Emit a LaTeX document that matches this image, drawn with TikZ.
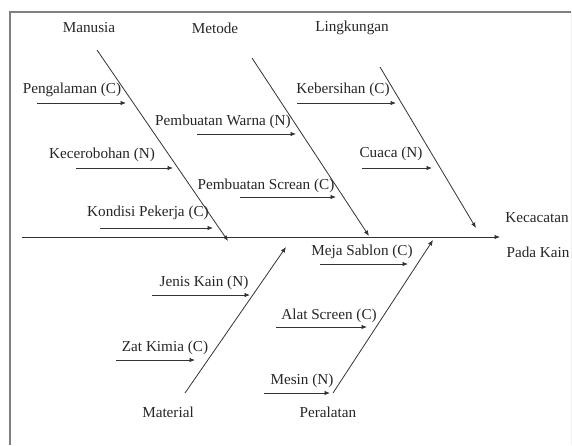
\documentclass[tikz,border=0pt]{standalone}
\usepackage{fontspec}
\setmainfont{Liberation Serif}
\usetikzlibrary{arrows.meta}
\tikzset{
  tulang/.style={draw=black!80,line width=0.8pt,-{Latex[length=5.5pt,width=4.5pt]}},
  sebab/.style={draw=black!80,line width=0.8pt,-{Latex[length=5.5pt,width=4.5pt]}},
  teks/.style={font=\fontsize{15.2}{18}\selectfont,inner sep=0pt,text=black!85}
}
\begin{document}
\begin{tikzpicture}[x=1pt,y=-1pt]
\useasboundingbox (0,0) rectangle (572,445);
% bingkai
\draw[black!50,line width=1.2pt] (10,445) -- (10,12) -- (571,12);
\draw[black!6] (571,12) -- (571,445);

% titik ujung tulang
\coordinate (S0) at (22,237);
\coordinate (S1) at (500,237);
\coordinate (M0) at (97,50);
\coordinate (M1) at (228,241);
\coordinate (T0) at (252,58);
\coordinate (T1) at (369,236);
\coordinate (L0) at (380,67);
\coordinate (L1) at (476,228);
\coordinate (B0) at (185,393);
\coordinate (B1) at (286,247);
\coordinate (P0) at (333,393);
\coordinate (P1) at (433,240);

% tulang utama dan cabang
\draw[tulang] (S0) -- (S1);
\draw[tulang] (M0) -- (M1); % Manusia
\draw[tulang] (T0) -- (T1); % Metode
\draw[tulang] (L0) -- (L1); % Lingkungan
\draw[tulang] (B0) -- (B1); % Material
\draw[tulang] (P0) -- (P1); % Peralatan

% kategori
\node[teks] (manusia) at (89,28) {Manusia};
\node[teks] (metode) at (215,28) {Metode};
\node[teks] (lingkungan) at (352,28) {Lingkungan};
\node[teks] (material) at (168,412) {Material};
\node[teks] (peralatan) at (328,412) {Peralatan};
\node[teks] (cacat1) at (537,218) {Kecacatan};
\node[teks] (cacat2) at (538,252) {Pada Kain};

% penyebab
\node[teks] (pengalaman) at (72,90) {Pengalaman (C)};
\node[teks] (ceroboh) at (102,155) {Kecerobohan (N)};
\node[teks] (kondisi) at (148,213) {Kondisi Pekerja (C)};
\node[teks] (warna) at (223,122) {Pembuatan Warna (N)};
\node[teks] (screan) at (266,186) {Pembuatan Screan (C)};
\node[teks] (bersih) at (343,90) {Kebersihan (C)};
\node[teks] (cuaca) at (391,154) {Cuaca (N)};
\node[teks] (kain) at (204,283) {Jenis Kain (N)};
\node[teks] (kimia) at (165,348) {Zat Kimia (C)};
\node[teks] (meja) at (362,252) {Meja Sablon (C)};
\node[teks] (alat) at (329,316) {Alat Screen (C)};
\node[teks] (mesin) at (302,381) {Mesin (N)};

% panah penyebab
\coordinate (a1) at (37,103);   \coordinate (b1) at (126,103);
\coordinate (a2) at (76,168);   \coordinate (b2) at (173,168);
\coordinate (a3) at (100,228);  \coordinate (b3) at (213,228);
\coordinate (a4) at (197,134);  \coordinate (b4) at (296,134);
\coordinate (a5) at (240,197);  \coordinate (b5) at (336,197);
\coordinate (a6) at (297,103);  \coordinate (b6) at (396,103);
\coordinate (a7) at (362,168);  \coordinate (b7) at (432,168);
\coordinate (a8) at (152,295);  \coordinate (b8) at (250,295);
\coordinate (a9) at (116,360);  \coordinate (b9) at (195,360);
\coordinate (a10) at (320,264); \coordinate (b10) at (408,264);
\coordinate (a11) at (276,327); \coordinate (b11) at (367,327);
\coordinate (a12) at (264,393); \coordinate (b12) at (330,393);
\foreach \i in {1,...,12}
  \draw[sebab] (a\i) -- (b\i);
\end{tikzpicture}
\end{document}
